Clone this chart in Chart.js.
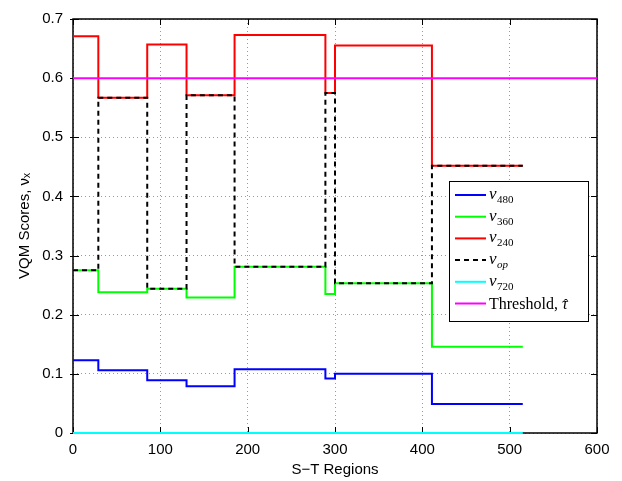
<!DOCTYPE html>
<html>
<head>
<meta charset="utf-8">
<script src="https://cdn.jsdelivr.net/npm/chart.js@4/dist/chart.umd.min.js"></script>
<style>
  body { margin: 0; background: #fff; }
  #wrap { width: 622px; height: 481px; }
</style>
</head>
<body>
<div id="wrap"><canvas id="chart-vqm" width="622" height="481"></canvas></div>
<script>
// step boundaries (S-T region index where each level starts)
const xStarts = [0, 29, 85, 130, 185, 289, 300, 411];
const xEnd = 515;
const v480 = [0.123, 0.106, 0.089, 0.079, 0.108, 0.092, 0.100, 0.049];
const v360 = [0.275, 0.238, 0.244, 0.229, 0.281, 0.235, 0.253, 0.146];
const v240 = [0.671, 0.567, 0.657, 0.571, 0.673, 0.575, 0.655, 0.452];
const vOp  = [0.275, 0.567, 0.244, 0.571, 0.281, 0.575, 0.253, 0.452];
const v720 = [0, 0, 0, 0, 0, 0, 0, 0];
const thresholdX = [0, 600];
const thresholdY = [0.6, 0.6];
const xTicks = [0, 100, 200, 300, 400, 500, 600];
const yTicks = [0, 0.1, 0.2, 0.3, 0.4, 0.5, 0.6, 0.7];

function steps(vals) {
    const pts = xStarts.map((x, i) => ({ x: x, y: vals[i] }));
    pts.push({ x: xEnd, y: vals[vals.length - 1] });
    return pts;
}

const legendItems = [
    { color: '#0000ff', dash: [], sub: '480', subItalic: false },
    { color: '#00ff00', dash: [], sub: '360', subItalic: false },
    { color: '#ff0000', dash: [], sub: '240', subItalic: false },
    { color: '#000000', dash: [5, 4], sub: 'op', subItalic: true },
    { color: '#00ffff', dash: [], sub: '720', subItalic: false },
    { color: '#ff00ff', dash: [], text: 'Threshold, ' }
];

const boxPlugin = {
    id: 'matlabBox',
    beforeDatasetsDraw(chart) {
        const ctx = chart.ctx;
        const a = chart.chartArea;
        const xs = chart.scales.x, ys = chart.scales.y;
        ctx.save();
        ctx.strokeStyle = '#000';
        ctx.lineWidth = 1;
        ctx.beginPath();
        xTicks.forEach(t => {
            const px = Math.round(xs.getPixelForValue(t)) + 0.5;
            ctx.moveTo(px, a.bottom); ctx.lineTo(px, a.bottom - 6);
            ctx.moveTo(px, a.top); ctx.lineTo(px, a.top + 6);
        });
        yTicks.forEach(t => {
            const py = Math.round(ys.getPixelForValue(t)) + 0.5;
            ctx.moveTo(a.left - 3, py); ctx.lineTo(a.left + 6, py);
            ctx.moveTo(a.right, py); ctx.lineTo(a.right - 6, py);
        });
        ctx.stroke();
        ctx.lineWidth = 1.5;
        ctx.strokeRect(a.left, a.top, a.right - a.left, a.bottom - a.top);
        ctx.restore();
    },
    afterDraw(chart) {
        const ctx = chart.ctx;
        const bx = 449, by = 181, bw = 139, bh = 140;
        ctx.save();
        ctx.fillStyle = '#fff';
        ctx.fillRect(bx, by, bw, bh);
        ctx.strokeStyle = '#000';
        ctx.lineWidth = 1;
        ctx.strokeRect(bx + 0.5, by + 0.5, bw, bh);
        legendItems.forEach((it, i) => {
            const cy = 195 + i * 21.7;
            ctx.strokeStyle = it.color;
            ctx.lineWidth = 2;
            ctx.setLineDash(it.dash);
            ctx.beginPath();
            ctx.moveTo(455, cy); ctx.lineTo(486, cy);
            ctx.stroke();
            ctx.setLineDash([]);
            ctx.fillStyle = '#000';
            ctx.textBaseline = 'alphabetic';
            ctx.textAlign = 'left';
            let x = 489;
            const base = cy + 4;
            if (it.text) {
                ctx.font = '16px "Liberation Serif"';
                ctx.fillText(it.text, x, base + 1);
                x += ctx.measureText(it.text).width;
                ctx.font = 'italic 16px "Liberation Serif"';
                ctx.fillText('\u03c4', x, base + 1);
                ctx.font = '14px "Liberation Serif"';
                ctx.fillText('\u02c6', x + 1.5, base + 1);
            } else {
                ctx.font = 'italic 17px "Liberation Serif"';
                ctx.fillText('\u03bd', x, base);
                x += ctx.measureText('\u03bd').width + 0.5;
                ctx.font = (it.subItalic ? 'italic ' : '') + '11px "Liberation Serif"';
                ctx.fillText(it.sub, x, base + 4);
            }
        });
        ctx.restore();
    }
};

const data = {
    datasets: [{
        label: 'v480',
        data: steps(v480),
        borderColor: '#0000ff',
        order: 6
    }, {
        label: 'v360',
        data: steps(v360),
        borderColor: '#00ff00',
        order: 5
    }, {
        label: 'v240',
        data: steps(v240),
        borderColor: '#ff0000',
        order: 4
    }, {
        label: 'vop',
        data: steps(vOp),
        borderColor: '#000000',
        borderDash: [5, 4],
        order: 3
    }, {
        label: 'v720',
        data: steps(v720),
        borderColor: '#00ffff',
        order: 2
    }, {
        label: 'Threshold',
        data: thresholdX.map((x, i) => ({ x: x, y: thresholdY[i] })),
        borderColor: '#ff00ff',
        order: 1
    }]
};
data.datasets.forEach(d => {
    d.stepped = 'before';
    d.borderWidth = 2;
    d.pointRadius = 0;
    d.fill = false;
    d.clip = 4;
});

const tickFont = { family: '"Liberation Sans", Arial', size: 15 };

const config = {
    type: 'line',
    data: data,
    options: {
        responsive: false,
        animation: false,
        layout: { padding: { left: 0, right: 25, top: 8, bottom: 0 } },
        plugins: {
            legend: { display: false },
            tooltip: { enabled: false }
        },
        scales: {
            x: {
                type: 'linear',
                min: 0,
                max: 600,
                afterBuildTicks: s => { s.ticks = xTicks.map(v => ({ value: v })); },
                ticks: { color: '#000', font: tickFont, padding: 8, maxRotation: 0 },
                grid: { color: '#9a9a9a', drawTicks: false, lineWidth: 1 },
                border: { display: false, dash: [1, 3] },
                title: {
                    display: true,
                    text: 'S\u2212T Regions',
                    color: '#000',
                    font: tickFont,
                    padding: { top: 0, bottom: 2 }
                },
                afterFit: s => { s.height = 48; }
            },
            y: {
                min: 0,
                max: 0.7,
                afterBuildTicks: s => { s.ticks = yTicks.map(v => ({ value: v })); },
                ticks: {
                    color: '#000', font: tickFont, padding: 10,
                    callback: v => (v === 0 ? '0' : v.toFixed(1))
                },
                grid: { color: '#9a9a9a', drawTicks: false, lineWidth: 1 },
                border: { display: false, dash: [1, 3] },
                title: {
                    display: true,
                    text: 'VQM Scores, \u03bd\u2093',
                    color: '#000',
                    font: { family: '"Liberation Sans", Arial', size: 15 },
                    padding: { top: 16, bottom: 4 }
                },
                afterFit: s => { s.width = 73; }
            }
        }
    },
    plugins: [boxPlugin]
};

const myChart = new Chart(document.getElementById('chart-vqm'), config);
</script>
</body>
</html>
